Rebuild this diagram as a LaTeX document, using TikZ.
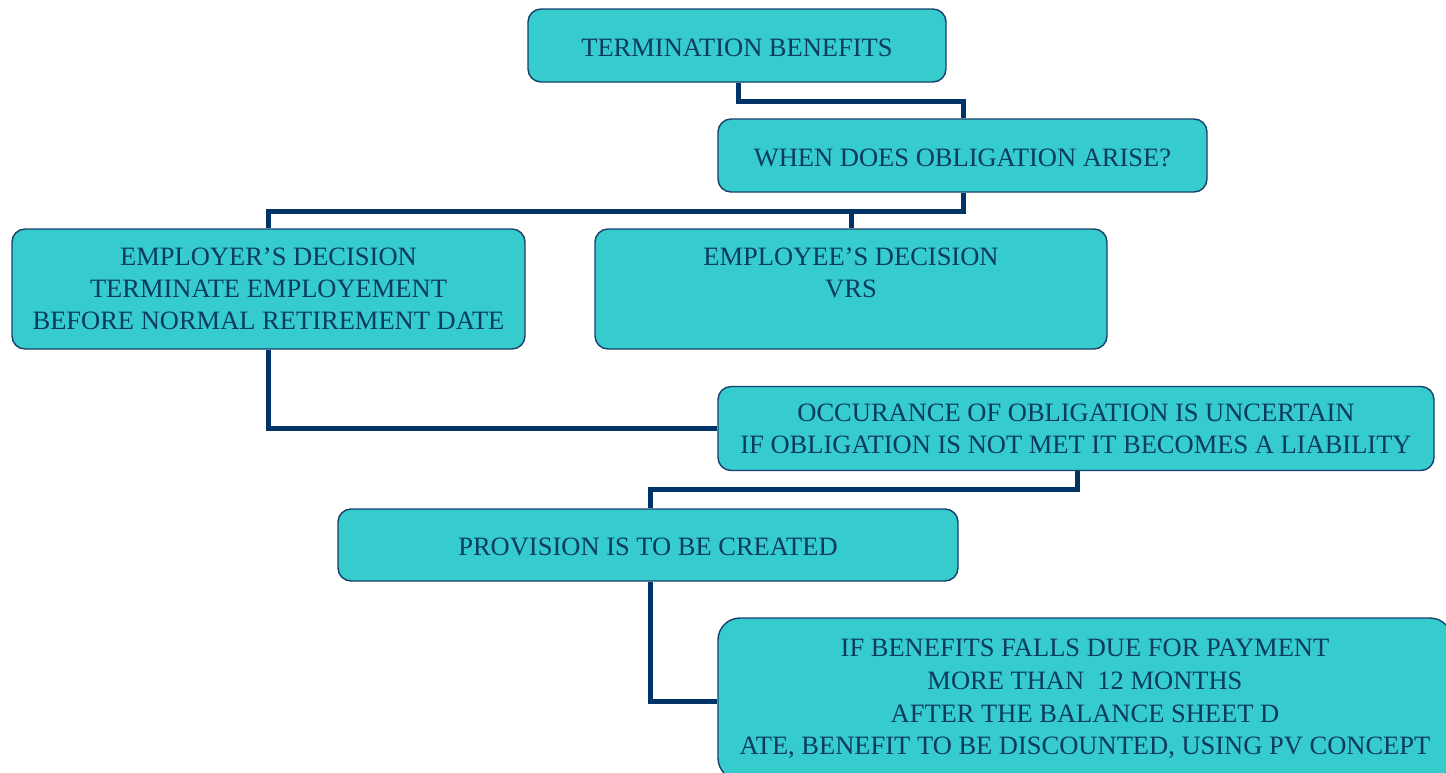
\documentclass[tikz,border=0pt]{standalone}
\usepackage{fontspec}
\setmainfont{Liberation Serif}
\usetikzlibrary{backgrounds}
\definecolor{boxfill}{HTML}{36CBCD}
\definecolor{boxline}{HTML}{17406D}
\definecolor{txt}{HTML}{0B3A66}
\definecolor{conncol}{HTML}{003366}
\newcommand{\topfix}{\rule{0pt}{22pt}}
\tikzset{
  box/.style={draw=boxline, line width=1.4pt, fill=boxfill, rounded corners=13pt,
    text=txt, align=center, inner sep=0pt,
    font=\fontsize{26.5}{32}\selectfont,
    execute at begin node=\topfix},
  conn/.style={draw=conncol, line width=5pt}
}
\begin{document}
\begin{tikzpicture}[x=1pt,y=-1pt]
\useasboundingbox (0,0) rectangle (1446,772);
\clip (0,0) rectangle (1446,772);
\node[box, minimum width=418pt, minimum height=73pt] (t1) at (737,45.5) {TERMINATION BENEFITS};
\node[box, minimum width=489pt, minimum height=73pt] (t2) at (962.5,155.5) {WHEN DOES OBLIGATION ARISE?};
\node[box, minimum width=513pt, minimum height=120pt] (t3) at (268.5,289) {EMPLOYER’S DECISION\\TERMINATE EMPLOYEMENT\\BEFORE NORMAL RETIREMENT DATE};
\node[box, minimum width=512pt, minimum height=120pt] (t4) at (851,289) {EMPLOYEE’S DECISION\\VRS\\\mbox{}};
\node[box, minimum width=716pt, minimum height=84pt] (t5) at (1076,428.5) {OCCURANCE OF OBLIGATION IS UNCERTAIN\\IF OBLIGATION IS NOT MET IT BECOMES A LIABILITY};
\node[box, minimum width=620pt, minimum height=72pt] (t6) at (648,545) {PROVISION IS TO BE CREATED};
\node[box, rounded corners=22pt, minimum width=734pt, minimum height=162pt, font=\fontsize{26.5}{32.7}\selectfont] (t7) at (1085,699) {IF BENEFITS FALLS DUE FOR PAYMENT\\MORE THAN~ 12 MONTHS\\AFTER THE BALANCE SHEET D\\ATE, BENEFIT TO BE DISCOUNTED, USING PV CONCEPT};
\begin{pgfonlayer}{background}
\coordinate (j1) at (738,101);
\coordinate (j2) at (963,211);
\coordinate (j3) at (1077,489);
\draw[conn] ([xshift=1pt]t1.south) -- (j1) -| ([xshift=0.5pt]t2.north);
\draw[conn] ([xshift=0.5pt]t2.south) -- (j2) -| (t3.north);
\draw[conn] (j2) -| (t4.north);
\draw[conn] (t3.south) |- (t5.west);
\draw[conn] ([xshift=1pt]t5.south) -- (j3) -| ([xshift=2pt]t6.north);
\draw[conn] ([xshift=2pt]t6.south) |- ([yshift=-2pt]t7.west);
\end{pgfonlayer}
\end{tikzpicture}
\end{document}
